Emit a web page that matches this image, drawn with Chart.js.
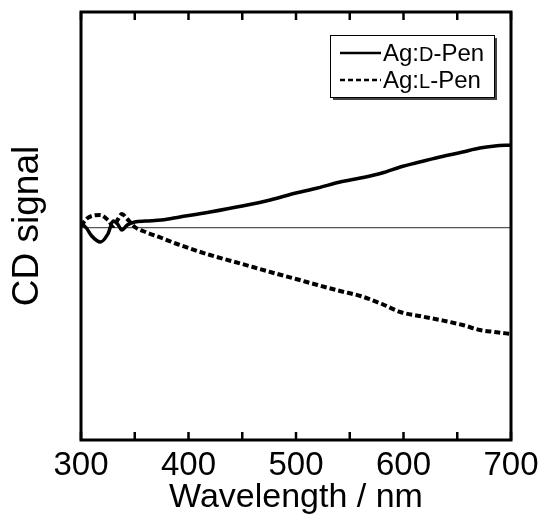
<!DOCTYPE html>
<html>
<head>
<meta charset="utf-8">
<script src="https://cdn.jsdelivr.net/npm/chart.js@4/dist/chart.umd.min.js"></script>
<style>
  html, body { margin: 0; padding: 0; background: #fff; }
  #wrap { width: 541px; height: 515px; }
</style>
</head>
<body>
<div id="wrap"><canvas id="cd" width="541" height="515"></canvas></div>
<script>
// === Data (CD signal, arbitrary units) ===
const wlD = [300, 305, 310, 318, 325, 330, 334, 338, 343, 350, 360, 375, 392, 420, 450, 476, 500, 520, 541, 560, 580, 597, 615, 634, 655, 671, 685, 700];
const cdD = [5, 0, -8, -14, -6, 7, 4, -2, 3, 6, 7, 8, 11, 16, 22, 28, 35, 40, 46, 50, 55, 61, 66, 71, 76, 80, 82, 83];

const wlL = [300, 305, 310, 318, 325, 330, 334, 338, 343, 350, 360, 375, 392, 420, 450, 476, 500, 520, 541, 560, 580, 597, 615, 634, 655, 671, 685, 700];
const cdL = [2, 9, 12, 13, 8, 2, 8, 14, 9, 1, -4, -10, -17, -27, -36, -44, -51, -57, -63, -68, -76, -84, -88, -92, -97, -102, -104, -106];

const xTicks = [300, 350, 400, 450, 500, 550, 600, 650, 700];
const seriesNames = ['Ag:D-Pen', 'Ag:L-Pen'];

const toPts = (xs, ys) => xs.map((x, i) => ({ x: x, y: ys[i] }));

// === Frame, inner ticks and legend ===
const framePlugin = {
  id: 'frame',
  afterDraw(chart) {
    const { ctx, chartArea: a, scales } = chart;
    ctx.save();
    ctx.strokeStyle = '#000';
    ctx.lineWidth = 2.5;
    xTicks.forEach(v => {
      const px = scales.x.getPixelForValue(v);
      ctx.beginPath();
      ctx.moveTo(px, a.bottom); ctx.lineTo(px, a.bottom - 8);
      ctx.moveTo(px, a.top); ctx.lineTo(px, a.top + 8);
      ctx.stroke();
    });
    ctx.lineWidth = 3;
    ctx.strokeRect(a.left, a.top, a.right - a.left, a.bottom - a.top);

    // legend box
    const bx = 330, by = 35, bw = 164, bh = 62;
    ctx.fillStyle = '#444';
    ctx.fillRect(bx + 3, by + 3, bw, bh);
    ctx.fillStyle = '#fff';
    ctx.fillRect(bx, by, bw, bh);
    ctx.lineWidth = 1;
    ctx.strokeStyle = '#000';
    ctx.strokeRect(bx + 0.5, by + 0.5, bw, bh);

    const rows = [{ y: 53, dash: [] }, { y: 80, dash: [5, 3] }];
    rows.forEach((r, i) => {
      ctx.lineWidth = 2.5;
      ctx.setLineDash(r.dash);
      ctx.beginPath();
      ctx.moveTo(340, r.y); ctx.lineTo(381, r.y);
      ctx.stroke();
      ctx.setLineDash([]);
      const name = seriesNames[i];
      const parts = [name.slice(0, 3), name.slice(3, 4), name.slice(4)];
      const sizes = [24, 20, 24];
      let x = 383;
      ctx.fillStyle = '#000';
      ctx.textBaseline = 'alphabetic';
      parts.forEach((p, k) => {
        ctx.font = sizes[k] + 'px "Liberation Sans", Arial, sans-serif';
        ctx.fillText(p, x, r.y + 8);
        x += ctx.measureText(p).width;
      });
    });
    ctx.restore();
  }
};

new Chart(document.getElementById('cd'), {
  type: 'line',
  data: {
    datasets: [
      { label: seriesNames[0], data: toPts(wlD, cdD), borderColor: '#000', borderWidth: 3.5, pointRadius: 0, cubicInterpolationMode: 'monotone', fill: false },
      { label: seriesNames[1], data: toPts(wlL, cdL), borderColor: '#000', borderWidth: 4, borderDash: [6, 3], pointRadius: 0, cubicInterpolationMode: 'monotone', fill: false }
    ]
  },
  options: {
    responsive: false,
    animation: false,
    layout: { padding: { left: 0, right: 30, top: 12, bottom: 0 } },
    plugins: { legend: { display: false }, tooltip: { enabled: false } },
    scales: {
      x: {
        type: 'linear',
        min: 300, max: 700,
        afterBuildTicks: s => { s.ticks = xTicks.map(v => ({ value: v })); },
        afterFit: s => { s.height = 75; },
        grid: { display: false },
        border: { display: false },
        ticks: {
          color: '#000', padding: -2, maxRotation: 0, autoSkip: false,
          font: { family: '"Liberation Sans", Arial, sans-serif', size: 33 },
          callback: v => (v % 100 === 0 ? String(v) : '')
        },
        title: {
          display: true, text: 'Wavelength / nm', color: '#000',
          font: { family: '"Liberation Sans", Arial, sans-serif', size: 34 },
          padding: { top: 7, bottom: -3 }
        }
      },
      y: {
        min: -212, max: 216,
        afterFit: s => { s.width = 81; },
        border: { display: false },
        ticks: { display: false, stepSize: 4 },
        grid: {
          drawTicks: false,
          color: c => (c.tick && c.tick.value === 0 ? '#555' : 'rgba(0,0,0,0)'),
          lineWidth: 1.2
        },
        title: {
          display: true, text: 'CD signal', color: '#000',
          font: { family: '"Liberation Sans", Arial, sans-serif', size: 37 },
          padding: { top: 6, bottom: 0 }
        }
      }
    }
  },
  plugins: [framePlugin]
});
</script>
</body>
</html>
